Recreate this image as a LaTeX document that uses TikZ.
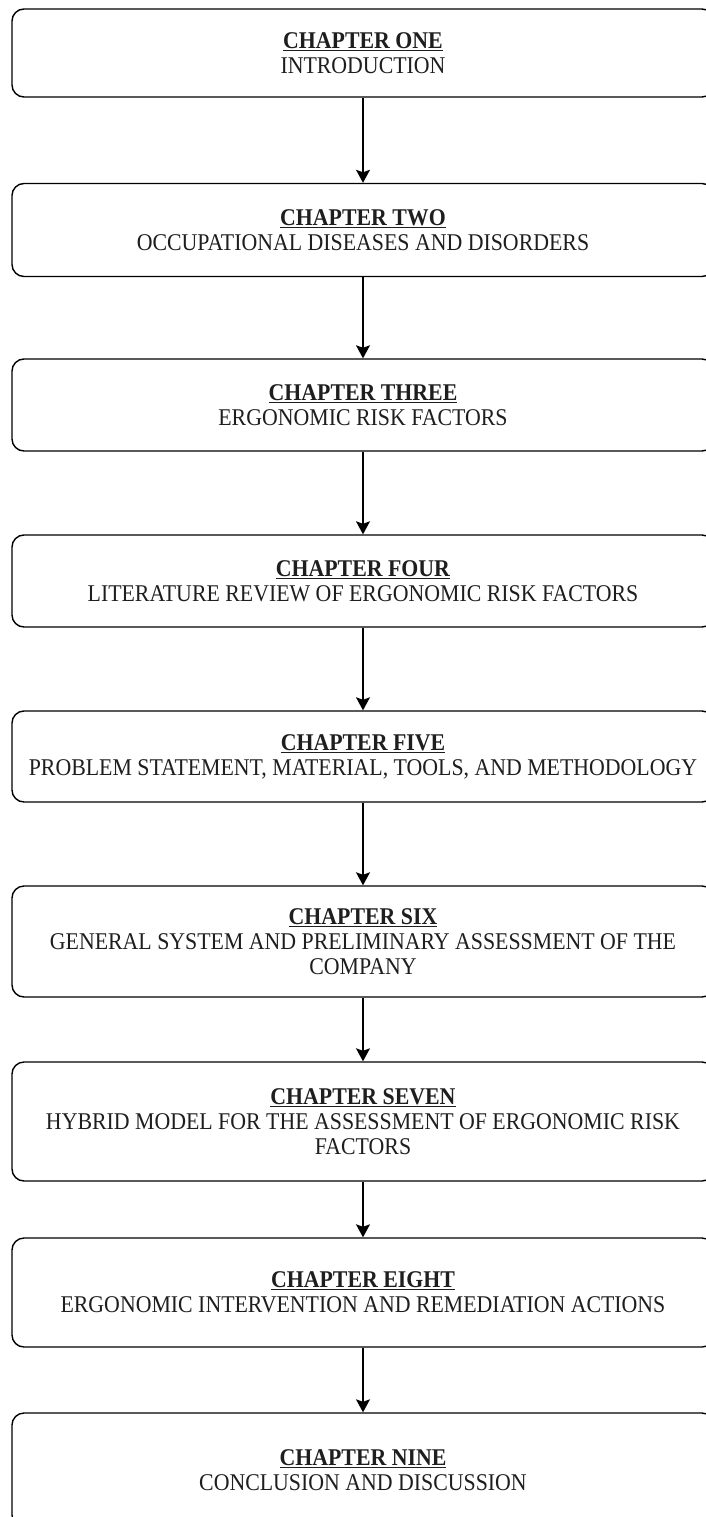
\documentclass[tikz,border=0pt]{standalone}
\usepackage{fontspec}
\setmainfont{Liberation Serif}[FakeStretch=0.91]
\usetikzlibrary{arrows.meta}
\definecolor{inkgray}{HTML}{1E1E1E}
\tikzset{
  chapbox/.style={draw=black, line width=1.4pt, rounded corners=12pt,
    fill=white, minimum width=702pt, inner sep=0pt, align=center,
    text=inkgray, font=\fontsize{24}{25}\selectfont},
  flow/.style={draw=black, line width=1.4pt,
    -{Stealth[length=13pt, width=14pt, inset=2.5pt]}}
}
\newcommand{\chaptitle}[1]{\underline{\textbf{#1}}}
\begin{document}
\begin{tikzpicture}[x=1pt, y=-1pt]
  \useasboundingbox (0,0) rectangle (706,1517);
  \clip (0,0) rectangle (706,1517);
  \fill[white] (0,0) rectangle (706,1517);

  \node[chapbox, minimum height=88pt]  (c1) at (363,53)
    {\chaptitle{CHAPTER ONE}\\INTRODUCTION};
  \node[chapbox, minimum height=93pt]  (c2) at (363,230)
    {\chaptitle{CHAPTER TWO}\\OCCUPATIONAL DISEASES AND DISORDERS};
  \node[chapbox, minimum height=92pt]  (c3) at (363,405)
    {\chaptitle{CHAPTER THREE}\\ERGONOMIC RISK FACTORS};
  \node[chapbox, minimum height=92pt]  (c4) at (363,581)
    {\chaptitle{CHAPTER FOUR}\\LITERATURE REVIEW OF ERGONOMIC RISK FACTORS};
  \node[chapbox, minimum height=91pt]  (c5) at (363,756.5)
    {\chaptitle{CHAPTER FIVE}\\PROBLEM STATEMENT, MATERIAL, TOOLS, AND METHODOLOGY};
  \node[chapbox, minimum height=111pt] (c6) at (363,941.5)
    {\chaptitle{CHAPTER SIX}\\GENERAL SYSTEM AND PRELIMINARY ASSESSMENT OF THE\\COMPANY};
  \node[chapbox, minimum height=119pt] (c7) at (363,1121.5)
    {\chaptitle{CHAPTER SEVEN}\\HYBRID MODEL FOR THE ASSESSMENT OF ERGONOMIC RISK\\FACTORS};
  \node[chapbox, minimum height=109pt] (c8) at (363,1292.5)
    {\chaptitle{CHAPTER EIGHT}\\ERGONOMIC INTERVENTION AND REMEDIATION ACTIONS};
  \node[chapbox, minimum height=114pt] (c9) at (363,1470)
    {\chaptitle{CHAPTER NINE}\\CONCLUSION AND DISCUSSION};

  \foreach \a/\b in {c1/c2, c2/c3, c3/c4, c4/c5, c5/c6, c6/c7, c7/c8, c8/c9}
    \draw[flow] (\a.south) -- (\b.north);
\end{tikzpicture}
\end{document}
